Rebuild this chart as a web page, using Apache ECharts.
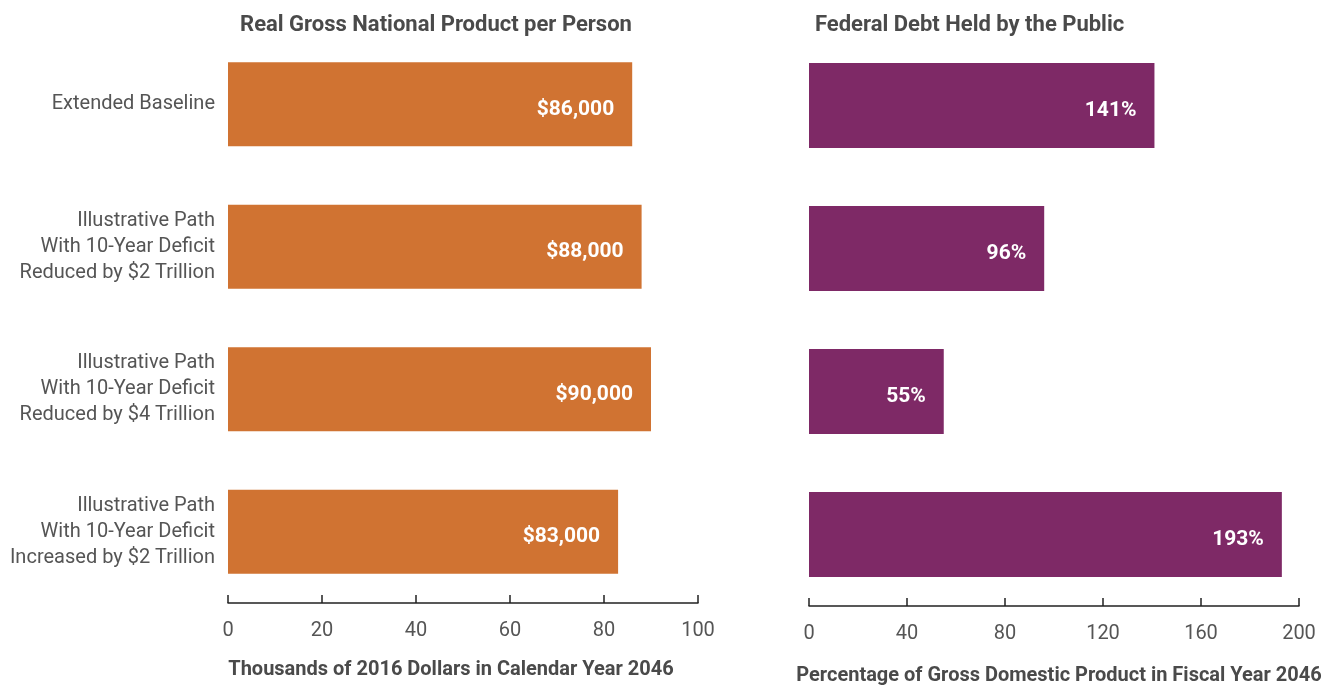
<!DOCTYPE html>
<html lang="en">
<head>
    <meta charset="UTF-8">
    <title>GNP per Person and Federal Debt</title>
    <script src="https://cdn.jsdelivr.net/npm/echarts@6/dist/echarts.min.js"></script>
    <style>
        html, body { margin: 0; padding: 0; background: #fff; }
        #main { width: 1336px; height: 686px; }
    </style>
</head>
<body>
    <div id="main"></div>
    <script type="text/javascript">
       // data
       var categories = [
           'Extended Baseline',
           'Illustrative Path\nWith 10-Year Deficit\nReduced by $2 Trillion',
           'Illustrative Path\nWith 10-Year Deficit\nReduced by $4 Trillion',
           'Illustrative Path\nWith 10-Year Deficit\nIncreased by $2 Trillion'
       ];
       var gnpValues = [86, 88, 90, 83];      // thousands of 2016 dollars
       var debtValues = [141, 96, 55, 193];   // percent of GDP
       var gnpTicks = [0, 20, 40, 60, 80, 100];
       var debtTicks = [0, 40, 80, 120, 160, 200];

       var myChart = echarts.init(document.getElementById('main'));
       var font = 'Roboto, "Liberation Sans", sans-serif';

       function valueAxis(idx, ticks, name, gap, namePad) {
           return {
               type: 'value',
               gridIndex: idx,
               min: ticks[0],
               max: ticks[ticks.length - 1],
               interval: ticks[1] - ticks[0],
               name: name,
               nameLocation: 'middle',
               nameGap: gap,
               nameTextStyle: { fontFamily: font, fontSize: 20, fontWeight: 'bold', color: '#4a4a4a', padding: namePad },
               axisLine: { show: true, lineStyle: { color: '#222', width: 1.5 } },
               axisTick: { show: true, inside: true, length: 8, lineStyle: { color: '#222', width: 1.5 } },
               axisLabel: { fontFamily: font, fontSize: 20, color: '#555', margin: 18 },
               splitLine: { show: false }
           };
       }

       function catAxis(idx, showLabels) {
           return {
               type: 'category',
               gridIndex: idx,
               data: categories,
               inverse: true,
               axisLine: { show: false },
               axisTick: { show: false },
               axisLabel: {
                   show: showLabels,
                   fontFamily: font,
                   fontSize: 20,
                   lineHeight: 26,
                   color: '#555',
                   align: 'right',
                   padding: [8, 0, 0, 0],
                   margin: 13
               }
           };
       }

       var barLabel = {
           show: true,
           position: 'insideRight',
           distance: 18,
           offset: [0, 5],
           fontFamily: font,
           fontSize: 21,
           fontWeight: 'bold',
           color: '#fff'
       };

       var option = {
           animation: false,
           title: [
               {
                   text: 'Real Gross National Product per Person',
                   left: 431, top: 9, textAlign: 'center',
                   textStyle: { fontFamily: font, fontSize: 22, fontWeight: 'bold', color: '#4a4a4a' }
               },
               {
                   text: 'Federal Debt Held by the Public',
                   left: 810, top: 9,
                   textStyle: { fontFamily: font, fontSize: 22, fontWeight: 'bold', color: '#4a4a4a' }
               }
           ],
           grid: [
               { left: 228, width: 470, top: 33, height: 570, outerBoundsMode: 'none', containLabel: false },
               { left: 809, width: 490, top: 34, height: 572, outerBoundsMode: 'none', containLabel: false }
           ],
           xAxis: [
               valueAxis(0, gnpTicks, 'Thousands of 2016 Dollars in Calendar Year 2046', 57, [0, 24, 0, 0]),
               valueAxis(1, debtTicks, 'Percentage of Gross Domestic Product in Fiscal Year 2046', 60, [0, 0, 0, 10])
           ],
           yAxis: [catAxis(0, true), catAxis(1, false)],
           series: [
               {
                   type: 'bar',
                   xAxisIndex: 0,
                   yAxisIndex: 0,
                   data: gnpValues,
                   barWidth: 84,
                   itemStyle: { color: '#D07332' },
                   label: Object.assign({}, barLabel, {
                       formatter: function (p) { return '$' + p.value + ',000'; }
                   })
               },
               {
                   type: 'bar',
                   xAxisIndex: 1,
                   yAxisIndex: 1,
                   data: debtValues,
                   barWidth: 85,
                   itemStyle: { color: '#7E2966' },
                   label: Object.assign({}, barLabel, { formatter: '{c}%' })
               }
           ]
       };

       myChart.setOption(option);
    </script>
</body>
</html>
